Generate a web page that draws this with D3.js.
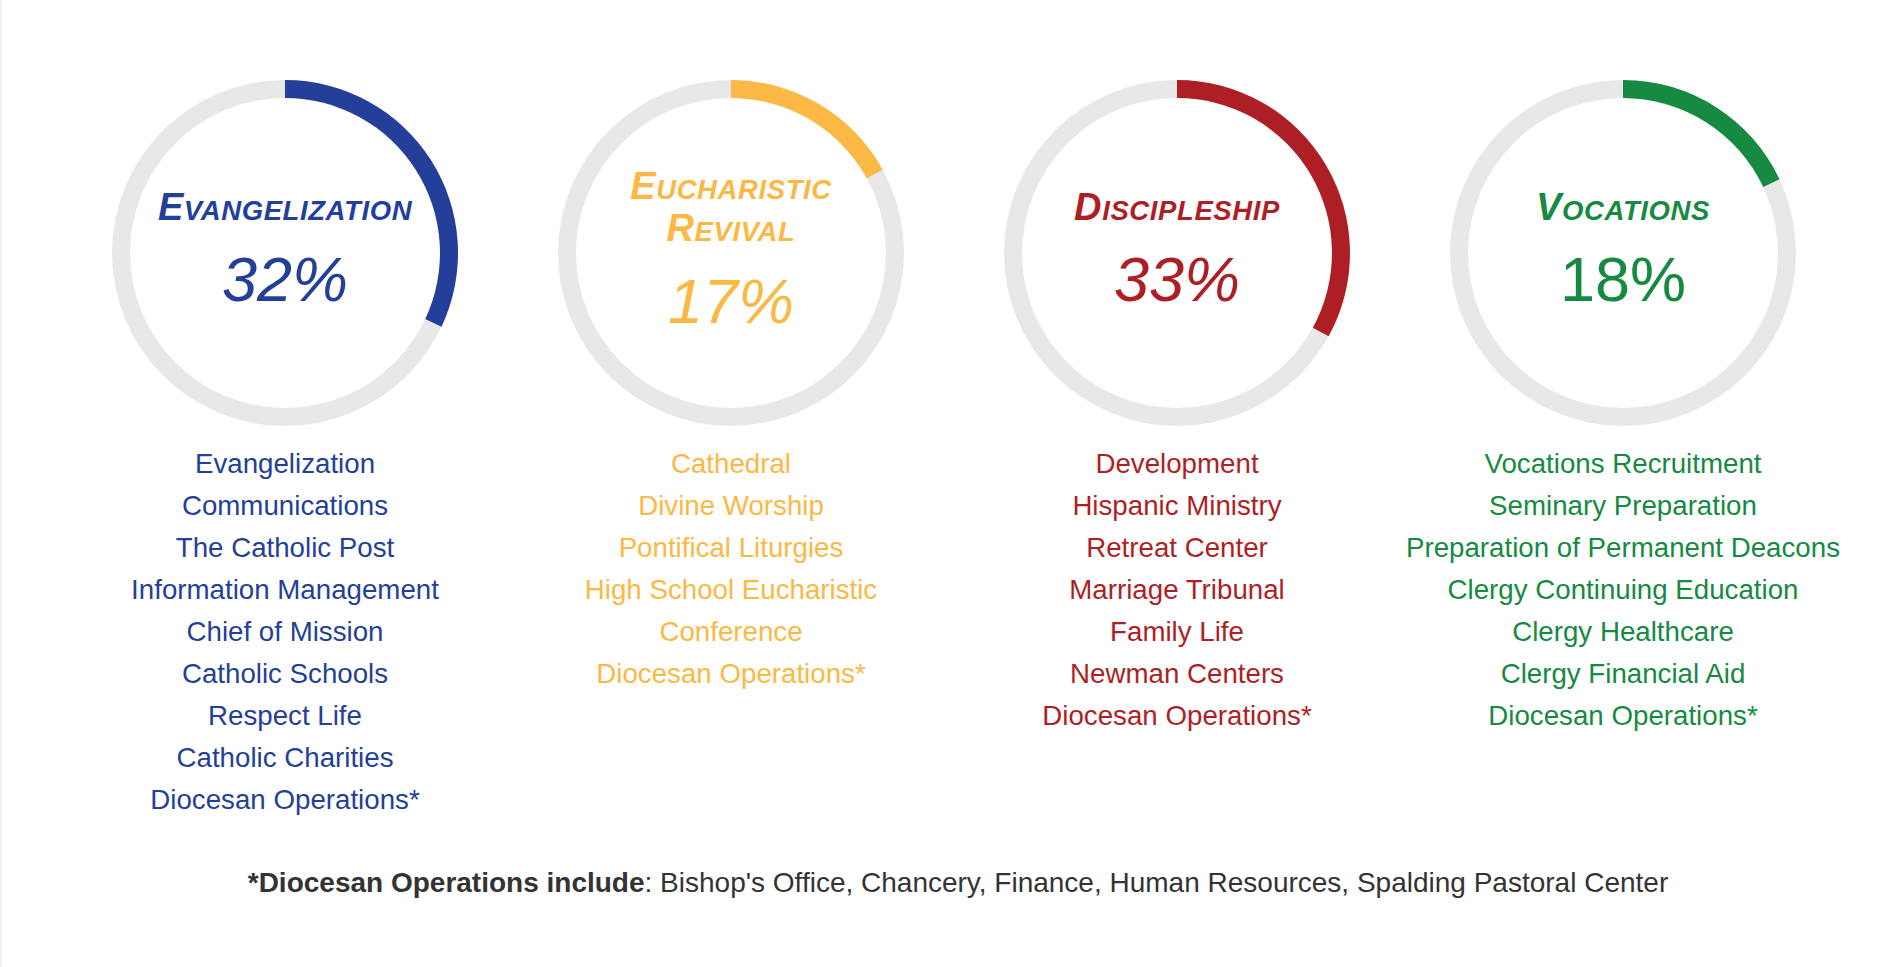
<!DOCTYPE html>
<html>
<head>
<meta charset="utf-8">
<script src="https://cdn.jsdelivr.net/npm/d3@7"></script>
<style>
  html, body { margin: 0; padding: 0; background: #fff; }
  svg { display: block; font-family: "Liberation Sans", Arial, Helvetica, sans-serif; }
</style>
</head>
<body>
<svg id="chart"></svg>
<script>
// pillars and their share of the budget
var pillars = ["Evangelization", "Eucharistic Revival", "Discipleship", "Vocations"];
var titleLines = [["Evangelization"], ["Eucharistic", "Revival"], ["Discipleship"], ["Vocations"]];
var shares = [32, 17, 33, 18];
var palette = ["#243f99", "#fbb844", "#ae1f25", "#168a42"];
var percentItalic = [true, true, true, false];

// departments grouped under each pillar
var departments = [
  ["Evangelization", "Communications", "The Catholic Post", "Information Management",
   "Chief of Mission", "Catholic Schools", "Respect Life", "Catholic Charities",
   "Diocesan Operations*"],
  ["Cathedral", "Divine Worship", "Pontifical Liturgies", "High School Eucharistic",
   "Conference", "Diocesan Operations*"],
  ["Development", "Hispanic Ministry", "Retreat Center", "Marriage Tribunal",
   "Family Life", "Newman Centers", "Diocesan Operations*"],
  ["Vocations Recruitment", "Seminary Preparation", "Preparation of Permanent Deacons",
   "Clergy Continuing Education", "Clergy Healthcare", "Clergy Financial Aid",
   "Diocesan Operations*"]
];

var footnoteBold = "*Diocesan Operations include";
var footnoteRest = ": Bishop's Office, Chancery, Finance, Human Resources, Spalding Pastoral Center";

var width = 1892, height = 967;
var ringY = 253, outerR = 173, ringW = 18;
var listTop = 473, listStep = 42;

var svg = d3.select("#chart")
    .attr("width", width)
    .attr("height", height);

// faint page edge on the left
svg.append("rect")
    .attr("x", 0).attr("y", 0)
    .attr("width", 2).attr("height", height)
    .attr("fill", "#f0f0f0");

var x = d3.scalePoint()
    .domain(pillars)
    .range([285, 1623]);

var angle = d3.scaleLinear()
    .domain([0, 100])
    .range([0, 2 * Math.PI]);

var arc = d3.arc()
    .innerRadius(outerR - ringW)
    .outerRadius(outerR)
    .startAngle(0);

var group = svg.selectAll("g.pillar")
    .data(pillars)
  .enter().append("g")
    .attr("class", "pillar")
    .attr("transform", function(d) { return "translate(" + x(d) + ",0)"; });

var ring = group.append("g")
    .attr("transform", "translate(0," + ringY + ")");

ring.append("path")
    .attr("fill", "#e8e8e8")
    .attr("d", arc.endAngle(angle(100)));

ring.append("path")
    .attr("fill", function(d, i) { return palette[i]; })
    .attr("d", function(d, i) { return arc.endAngle(angle(shares[i]))(); });

// small-caps title, built from a large first letter and smaller capitals
group.each(function(d, i) {
  var g = d3.select(this);
  var lines = titleLines[i];
  var firstY = lines.length === 1 ? ringY - 33 : ringY - 54;

  lines.forEach(function(line, j) {
    var t = g.append("text")
        .attr("y", firstY + j * 42)
        .attr("text-anchor", "middle")
        .attr("fill", palette[i])
        .attr("font-weight", "bold")
        .attr("font-style", "italic")
        .attr("letter-spacing", "0.6px");
    t.append("tspan")
        .attr("font-size", 38)
        .text(line.charAt(0).toUpperCase());
    t.append("tspan")
        .attr("font-size", 27.5)
        .text(line.slice(1).toUpperCase());
  });

  g.append("text")
      .attr("y", lines.length === 1 ? ringY + 48 : ringY + 70)
      .attr("text-anchor", "middle")
      .attr("fill", palette[i])
      .attr("font-size", 63)
      .attr("font-style", percentItalic[i] ? "italic" : "normal")
      .text(shares[i] + "%");

  g.selectAll("text.dept")
      .data(departments[i])
    .enter().append("text")
      .attr("class", "dept")
      .attr("y", function(name, k) { return listTop + k * listStep; })
      .attr("text-anchor", "middle")
      .attr("fill", palette[i])
      .attr("font-size", 27.7)
      .text(function(name) { return name; });
});

var note = svg.append("text")
    .attr("x", width / 2 + 12)
    .attr("y", 892)
    .attr("text-anchor", "middle")
    .attr("fill", "#333")
    .attr("font-size", 28);

note.append("tspan")
    .attr("font-weight", "bold")
    .text(footnoteBold);

note.append("tspan")
    .text(footnoteRest);
</script>
</body>
</html>
